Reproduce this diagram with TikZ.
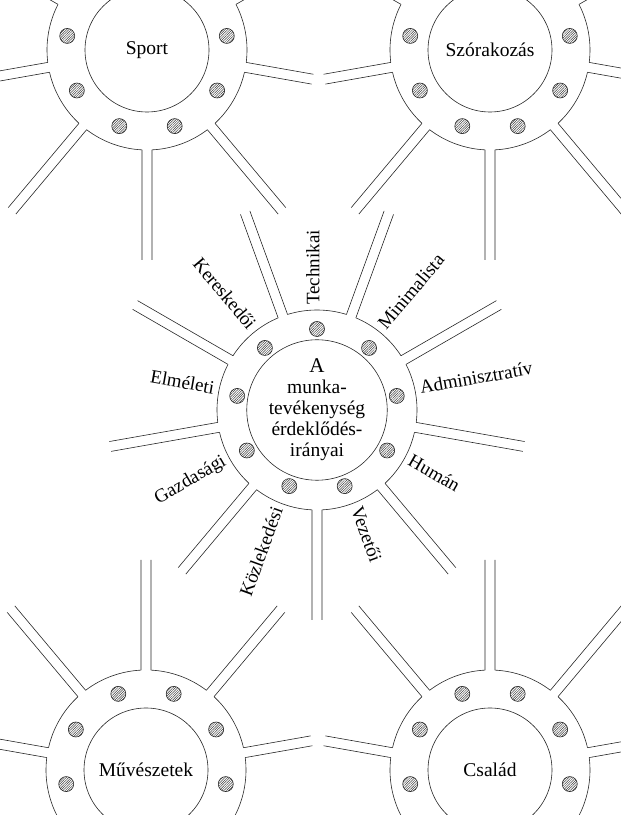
\documentclass[tikz,border=0pt]{standalone}
\usepackage{fontspec}
\setmainfont{Liberation Serif}
\usetikzlibrary{calc,patterns.meta}

% one hub: name, centre, first spoke angle, text, short spoke angle
\newcommand{\hub}[5]{%
  \node[core] (#1) at (#2) {#4};
  \foreach \k in {0,...,8} {
    \pgfmathsetmacro{\ang}{#3+40*\k}
    \pgfmathsetmacro{\len}{ifthenelse(\ang==#5,168,210)}
    \draw[ring] ($(#1)+(\ang+\spgap:100)$) arc[start angle=\ang+\spgap, end angle=\ang+40-\spgap, radius=100pt];
    \draw[ring] ($(#1)+(\ang+\spgap:100)$) -- ($(#1)+(\ang:\len)+(\ang+90:5)$);
    \draw[ring] ($(#1)+(\ang-\spgap:100)$) -- ($(#1)+(\ang:\len)+(\ang-90:5)$);
    \node[dot] (#1-\k) at ($(#1)+(\ang+20:81)$) {};
  }
}

\begin{document}
\begin{tikzpicture}[x=1pt,y=1pt,
    ring/.style={line width=0.6pt,black!85},
    core/.style={circle,draw,line width=0.6pt,black!85,minimum size=124pt,inner sep=0pt,
      align=center,text=black,font=\fontsize{19.5}{21}\selectfont},
    dot/.style={circle,draw,line width=0.6pt,black!85,minimum size=15pt,inner sep=0pt,
      pattern={Lines[angle=45,distance=1.7pt,line width=0.5pt]},pattern color=black!75},
    lab/.style={inner sep=1pt,font=\fontsize{19}{21}\selectfont}]
  \useasboundingbox (0,0) rectangle (621,815);
  \clip (0,0) rectangle (621,815);
  \pgfmathsetmacro{\spgap}{asin(5/100)}

  \hub{work}{317,405}{30}{\fontsize{21}{22}\selectfont A\\munka-\\tevékenység\\érdeklődés-\\irányai}{-1}
  \hub{sport}{147,765}{30}{Sport}{350}
  \hub{szorakozas}{490,765}{30}{Szórakozás}{190}
  \hub{muveszet}{146,45}{10}{Művészetek}{10}
  \hub{csalad}{490,45}{10}{Család}{170}

  \foreach \txt/\ang in {Technikai/90,Minimalista/50,Adminisztratív/10,Humán/-30,Vezetői/-70}
    \node[lab,anchor=mid west,rotate=\ang] (lab\ang) at ($(work)+(\ang:104)$) {\txt};
  \foreach \txt/\ang in {Kereskedői/130,Elméleti/170,Gazdasági/210,Közlekedési/250}
    \node[lab,anchor=mid east,rotate=\ang-180] (lab\ang) at ($(work)+(\ang:104)$) {\txt};
\end{tikzpicture}
\end{document}
